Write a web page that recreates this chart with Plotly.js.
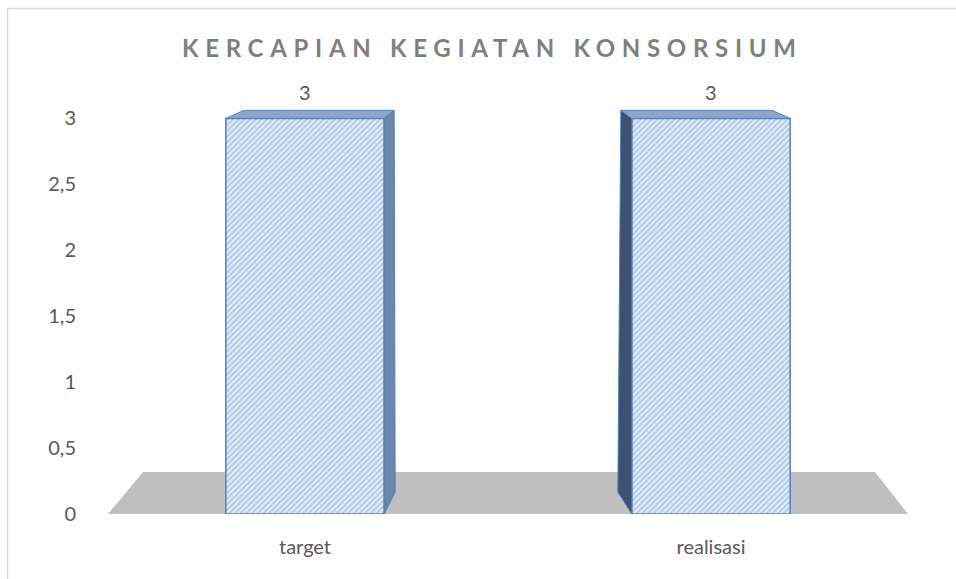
<!DOCTYPE html>
<html>
<head>
<meta charset="utf-8">
<script src="https://cdn.plot.ly/plotly-3.0.1.min.js"></script>
<style>
html,body{margin:0;padding:0;background:#fff;}
#chart{width:956px;height:579px;}
</style>
</head>
<body>
<div id="chart"></div>
<script>
// ---- data ----
const categories = ['target', 'realisasi'];
const values = [3, 3];
const yTickVals = [0, 0.5, 1, 1.5, 2, 2.5, 3];
const chartTitle = 'KERCAPIAN KEGIATAN KONSORSIUM';

// ---- style ----
const W = 956, H = 579;
const M = {l: 102, r: 42, t: 92, b: 65};
const yRange = [0, 3.2];
const xRange = [-0.5, categories.length - 0.5];
const pxPerX = (W - M.l - M.r) / (xRange[1] - xRange[0]);
const pxPerY = (H - M.t - M.b) / (yRange[1] - yRange[0]);
const barWidth = 0.39;
const depth = {near: 10, far: 18, top: 8, bottom: 22}; // px, pseudo-3D look
const sideColorLit = '#6f86ab', sideColorDark = '#3e516e', topColor = '#8fa5c8';
const edgeBlue = '#4f81bd';
const textGray = '#595959';
const FONT = 'Lato, "Open Sans", sans-serif';

const dx = p => p / pxPerX;
const dy = p => p / pxPerY;

const traces = [];
// front faces: real bar trace
traces.push({
  type: 'bar',
  x: categories,
  y: values,
  width: barWidth,
  marker: {
    color: '#dbe6f5',
    line: {color: edgeBlue, width: 1.5},
    pattern: {shape: '/', fgcolor: '#a7c1e6', bgcolor: '#e4edf9', size: 4, solidity: 0.4, fillmode: 'replace'}
  },
  hoverinfo: 'x+y',
  showlegend: false
});

// side and top faces derived from the same values
const mid = (categories.length - 1) / 2;
categories.forEach((c, i) => {
  const v = values[i];
  const L = i - barWidth / 2, R = i + barWidth / 2;
  const s = i < mid ? 1 : -1; // back of bar shifts toward the centre
  let side, top, col;
  if (s > 0) {
    side = {x: [R, R + dx(depth.near), R + dx(depth.near + 1), R, R],
            y: [v, v + dy(depth.top), dy(depth.bottom), 0, v]};
    top = {x: [L, R, R + dx(depth.near), L + dx(depth.far), L],
           y: [v, v, v + dy(depth.top), v + dy(depth.top), v]};
    col = sideColorLit;
  } else {
    side = {x: [L, L - dx(depth.near + 1), L - dx(depth.near + 4), L, L],
            y: [v, v + dy(depth.top), dy(depth.bottom), 0, v]};
    top = {x: [L, R, R - dx(depth.far), L - dx(depth.near + 1), L],
           y: [v, v, v + dy(depth.top), v + dy(depth.top), v]};
    col = sideColorDark;
  }
  traces.push({type: 'scatter', mode: 'lines', xaxis: 'x2', x: side.x, y: side.y, fill: 'toself',
    fillcolor: col, line: {color: edgeBlue, width: 1}, hoverinfo: 'skip', showlegend: false});
  traces.push({type: 'scatter', mode: 'lines', xaxis: 'x2', x: top.x, y: top.y, fill: 'toself',
    fillcolor: topColor, line: {color: edgeBlue, width: 1}, hoverinfo: 'skip', showlegend: false});
});

// value labels from data
const annotations = categories.map((c, i) => ({
  x: c, y: values[i], xref: 'x', yref: 'y', text: String(values[i]).replace('.', ','),
  showarrow: false, yshift: 26, font: {family: FONT, size: 20, color: textGray}
}));

// floor (decorative) and outer frame in paper coordinates
const px2paperX = p => (p - M.l) / (W - M.l - M.r);
const px2paperY = p => (H - M.b - p) / (H - M.t - M.b);
const floorPath = 'M ' + px2paperX(108) + ',' + px2paperY(514) +
  ' L ' + px2paperX(143) + ',' + px2paperY(472) +
  ' L ' + px2paperX(875) + ',' + px2paperY(472) +
  ' L ' + px2paperX(908) + ',' + px2paperY(514) + ' Z';
const framePath = 'M ' + px2paperX(7.5) + ',' + px2paperY(600) +
  ' L ' + px2paperX(7.5) + ',' + px2paperY(8.5) +
  ' L ' + px2paperX(1000) + ',' + px2paperY(8.5);

const layout = {
  width: W, height: H,
  margin: M,
  paper_bgcolor: '#ffffff', plot_bgcolor: 'rgba(0,0,0,0)',
  separators: ',.',
  showlegend: false,
  title: {
    text: '<b>' + chartTitle + '</b>',
    x: 0.515, xref: 'container', xanchor: 'center',
    y: 1 - 49 / H, yref: 'container', yanchor: 'middle',
    font: {family: FONT, size: 24, color: '#7f7f7f'}
  },
  xaxis: {
    type: 'category', range: xRange, showgrid: false, zeroline: false, showline: false,
    ticks: '', ticklabelstandoff: 19,
    tickfont: {family: FONT, size: 20, color: textGray}, fixedrange: true
  },
  xaxis2: {
    overlaying: 'x', range: xRange, visible: false, fixedrange: true
  },
  yaxis: {
    range: yRange, tickvals: yTickVals, showgrid: false, zeroline: false, showline: false,
    ticks: '', ticklabelstandoff: 25,
    tickfont: {family: FONT, size: 20, color: textGray}, fixedrange: true
  },
  annotations: annotations,
  shapes: [
    {type: 'path', xref: 'paper', yref: 'paper', path: floorPath, fillcolor: '#bfbfbf',
     line: {width: 0}, layer: 'below'},
    {type: 'path', xref: 'paper', yref: 'paper', path: framePath,
     line: {color: '#d9d9d9', width: 1.5}, layer: 'below'}
  ]
};

Plotly.newPlot('chart', traces, layout, {displayModeBar: false, staticPlot: true}).then(() => {
  const t = document.querySelector('#chart .gtitle');
  if (t) { t.style.letterSpacing = '6.7px'; }
});
</script>
</body>
</html>
